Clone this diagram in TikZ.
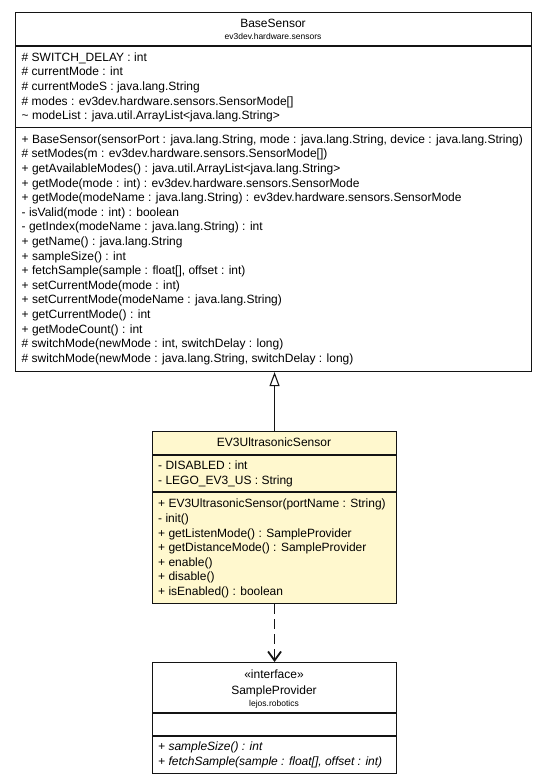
\documentclass[tikz,border=0pt]{standalone}
\usepackage{fontspec}
\setmainfont{Liberation Sans}
\usetikzlibrary{arrows.meta}
\definecolor{umlyellow}{RGB}{255,248,206}
\definecolor{umlline}{RGB}{20,20,20}
\begin{document}
\begin{tikzpicture}[x=1pt,y=-1pt,
  box/.style={draw=umlline, line width=1.1pt, rectangle, inner sep=0pt, anchor=north west},
  txt/.style={inner sep=0pt, anchor=base west, font=\fontsize{12}{14}\selectfont},
  itx/.style={txt, font=\fontsize{12}{14}\selectfont\itshape},
  ttl/.style={inner sep=0pt, anchor=base, font=\fontsize{12}{14}\selectfont},
  ster/.style={inner sep=0pt, anchor=base, font=\fontsize{12}{14}\selectfont},
  pkg/.style={inner sep=0pt, anchor=base, font=\fontsize{8.5}{10}\selectfont},
  div/.style={draw=umlline, line width=1.1pt}]
\useasboundingbox (0,0) rectangle (547,784);

% ---------- BaseSensor ----------
\node[box, minimum width=516pt, minimum height=359pt] (base) at (15,12) {};
\node[ttl] (bt) at (273,27.5) {BaseSensor};
\node[pkg] (bp) at (273,39.5) {ev3dev.hardware.sensors};
\draw[div] (base.west |- 0,46) -- (base.east |- 0,46);
\node[txt] (ba1) at (21.5,61.3) {\# SWITCH\_DELAY : int};
\node[txt] (ba2) at (21.5,75.9) {\# currentMode : int};
\node[txt] (ba3) at (21.5,90.5) {\# currentModeS : java.lang.String};
\node[txt] (ba4) at (21.5,105.1) {\# modes : ev3dev.hardware.sensors.SensorMode[]};
\node[txt] (ba5) at (21.5,119.7) {\textasciitilde{} modeList : java.util.ArrayList<java.lang.String>};
\draw[div] (base.west |- 0,127.5) -- (base.east |- 0,127.5);
\node[txt] (bm1) at (21.5,143.3) {+ BaseSensor(sensorPort : java.lang.String, mode : java.lang.String, device : java.lang.String)};
\node[txt] (bm2) at (21.5,157.9) {\# setModes(m : ev3dev.hardware.sensors.SensorMode[])};
\node[txt] (bm3) at (21.5,172.5) {+ getAvailableModes() : java.util.ArrayList<java.lang.String>};
\node[txt] (bm4) at (21.5,187.1) {+ getMode(mode : int) : ev3dev.hardware.sensors.SensorMode};
\node[txt] (bm5) at (21.5,201.7) {+ getMode(modeName : java.lang.String) : ev3dev.hardware.sensors.SensorMode};
\node[txt] (bm6) at (21.5,216.3) {- isValid(mode : int) : boolean};
\node[txt] (bm7) at (21.5,230.9) {- getIndex(modeName : java.lang.String) : int};
\node[txt] (bm8) at (21.5,245.5) {+ getName() : java.lang.String};
\node[txt] (bm9) at (21.5,260.1) {+ sampleSize() : int};
\node[txt] (bm10) at (21.5,274.7) {+ fetchSample(sample : float[], offset : int)};
\node[txt] (bm11) at (21.5,289.3) {+ setCurrentMode(mode : int)};
\node[txt] (bm12) at (21.5,303.9) {+ setCurrentMode(modeName : java.lang.String)};
\node[txt] (bm13) at (21.5,318.5) {+ getCurrentMode() : int};
\node[txt] (bm14) at (21.5,333.1) {+ getModeCount() : int};
\node[txt] (bm15) at (21.5,347.7) {\# switchMode(newMode : int, switchDelay : long)};
\node[txt] (bm16) at (21.5,362.3) {\# switchMode(newMode : java.lang.String, switchDelay : long)};

% ---------- EV3UltrasonicSensor ----------
\node[box, fill=umlyellow, minimum width=244pt, minimum height=172pt] (ev3) at (152,431) {};
\node[ttl] (et) at (274,446.3) {EV3UltrasonicSensor};
\draw[div] (ev3.west |- 0,455) -- (ev3.east |- 0,455);
\node[txt] (ea1) at (158,469.8) {- DISABLED : int};
\node[txt] (ea2) at (158,484.3) {- LEGO\_EV3\_US : String};
\draw[div] (ev3.west |- 0,492) -- (ev3.east |- 0,492);
\node[txt] (em1) at (158,507.8) {+ EV3UltrasonicSensor(portName : String)};
\node[txt] (em2) at (158,522.4) {- init()};
\node[txt] (em3) at (158,537) {+ getListenMode() : SampleProvider};
\node[txt] (em4) at (158,551.6) {+ getDistanceMode() : SampleProvider};
\node[txt] (em5) at (158,566.2) {+ enable()};
\node[txt] (em6) at (158,580.8) {+ disable()};
\node[txt] (em7) at (158,595.4) {+ isEnabled() : boolean};

% ---------- SampleProvider ----------
\node[box, minimum width=244pt, minimum height=111pt] (sp) at (152,662) {};
\node[ster] (ss) at (274,678) {«interface»};
\node[ttl] (st) at (274,694.3) {SampleProvider};
\node[pkg] (sk) at (274,706.5) {lejos.robotics};
\draw[div] (sp.west |- 0,713) -- (sp.east |- 0,713);
\draw[div] (sp.west |- 0,736) -- (sp.east |- 0,736);
\node[itx] (sm1) at (158,750.3) {+ sampleSize() : int};
\node[itx] (sm2) at (158,765.3) {+ fetchSample(sample : float[], offset : int)};

% ---------- connectors ----------
\draw[umlline, line width=1.1pt, -{Triangle[open, width=10pt, length=14pt]}]
  (ev3.north) -- (ev3.north |- base.south);
\draw[umlline, line width=1.4pt, dash pattern=on 10pt off 5pt,
  -{Straight Barb[length=9pt, width=13pt, line width=1.8pt]}]
  (ev3.south) -- (sp.north);
\end{tikzpicture}
\end{document}
